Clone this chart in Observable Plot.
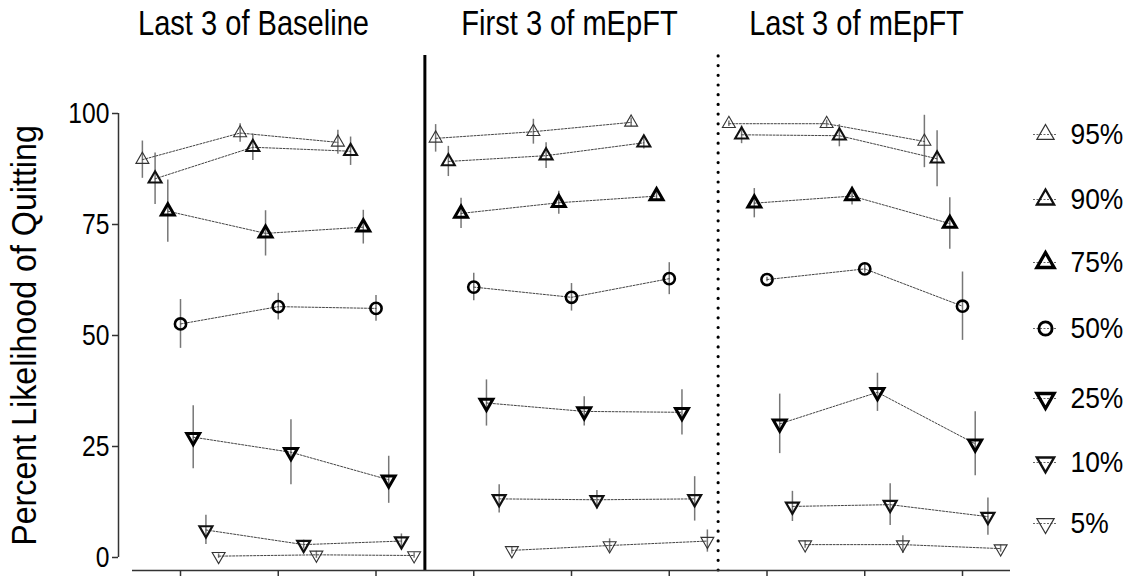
<!DOCTYPE html>
<html>
<head>
<meta charset="utf-8">
<script src="https://cdn.jsdelivr.net/npm/d3@7"></script>
<script src="https://cdn.jsdelivr.net/npm/@observablehq/plot@0.6"></script>
<style>
  html, body { margin: 0; padding: 0; background: #fff; }
  #chart svg { display: block; }
</style>
</head>
<body>
<div id="chart"></div>
<script>
// ---------- data ----------
const panelTitles = ["Last 3 of Baseline", "First 3 of mEpFT", "Last 3 of mEpFT"];
const sessions = [1, 2, 3, 4, 5, 6, 7, 8, 9];
const yTicks = [0, 25, 50, 75, 100];
const seriesLabels = ["95%", "90%", "75%", "50%", "25%", "10%", "5%"];
const yLabel = "Percent Likelihood of Quitting";

const mean95 = [89.6, 95.6, 93.5, 94.4, 95.9, 98.0, 97.7, 97.7, 93.7];
const err95  = [4.2, 2.1, 2.7, 3.1, 2.8, 1.0, 0.6, 0.8, 5.9];
const mean90 = [85.3, 92.4, 91.5, 89.2, 90.5, 93.4, 95.2, 95.0, 89.8];
const err90  = [5.8, 3.0, 3.2, 3.4, 2.9, 1.4, 2.0, 2.5, 6.3];
const mean75 = [78.0, 73.0, 74.4, 77.5, 79.9, 81.4, 79.8, 81.4, 75.2];
const err75  = [7.0, 5.1, 3.8, 3.4, 2.6, 1.0, 3.3, 2.0, 5.8];
const mean50 = [52.6, 56.5, 56.1, 60.9, 58.6, 62.8, 62.6, 65.0, 56.6];
const err50  = [5.5, 3.0, 2.9, 3.1, 3.1, 3.6, 0.5, 1.0, 7.7];
const mean25 = [27.1, 23.7, 17.5, 34.8, 32.9, 32.7, 30.1, 37.2, 25.6];
const err25  = [7.1, 7.3, 5.3, 5.2, 3.3, 5.1, 6.7, 4.3, 7.2];
const mean10 = [6.2, 2.9, 3.7, 13.2, 13.0, 13.2, 11.5, 11.9, 9.2];
const err10  = [3.3, 1.0, 1.6, 3.2, 2.1, 5.0, 3.4, 4.7, 4.2];
const mean5  = [0.3, 0.6, 0.45, 1.6, 2.7, 3.7, 2.9, 2.9, 2.0];
const err5   = [0.5, 0.8, 0.6, 0.8, 1.5, 2.5, 0.8, 2.0, 0.8];

// ---------- styles ----------
const means = [mean95, mean90, mean75, mean50, mean25, mean10, mean5];
const errs  = [err95, err90, err75, err50, err25, err10, err5];
const symbols   = ["triangle", "triangle", "triangle", "circle", "triangle", "triangle", "triangle"];
const rotations = [0, 0, 0, 0, 180, 180, 180];
const strokeW   = [1.1, 2.1, 3.0, 2.6, 3.0, 2.2, 1.1];
const strokeC   = ["#333", "#111", "#000", "#000", "#000", "#111", "#333"];
const radii     = [4.8, 4.8, 4.8, 5.6, 4.8, 4.8, 4.8];
const legendRadii = [6.4, 6.4, 6.4, 6.6, 6.4, 6.4, 6.4];

const FONT = '"Liberation Sans", Arial, Helvetica, sans-serif';

// ---------- layout ----------
const W = 1133, H = 576;
const mL = 118, mR = 123, mT = 113, mB = 6;
const xDomain = [0.3657, 9.491];
const yDomain = [-2.93, 100];
const kx = (W - mL - mR) / (xDomain[1] - xDomain[0]);
const ky = (H - mT - mB) / (yDomain[1] - yDomain[0]);
const px2x = px => xDomain[0] + (px - mL) / kx;
const py2y = py => yDomain[0] + (H - mB - py) / ky;
const dodge = 0.13;
const titlePx = [253, 569, 856];
const legendPy = [134, 199, 262, 328, 398, 462, 523];

const rows = [];
seriesLabels.forEach((s, si) => {
  sessions.forEach((sess, j) => {
    rows.push({
      series: s, si, panel: Math.floor(j / 3),
      x: sess + (si - 3) * dodge,
      mean: means[si][j], err: errs[si][j]
    });
  });
});

const marks = [];
// separators
marks.push(Plot.ruleX([3.5], {y1: yDomain[0], y2: py2y(55), stroke: "#000", strokeWidth: 3}));
marks.push(Plot.ruleX([6.5], {y1: yDomain[0], y2: py2y(55), stroke: "#000", strokeWidth: 3.2,
  strokeDasharray: "0,9.7", strokeLinecap: "round"}));
// axes
marks.push(Plot.ruleX([xDomain[0]], {y1: 0, y2: 100, stroke: "#333", strokeWidth: 1.5}));
marks.push(Plot.ruleY([yDomain[0]], {x1: px2x(132), x2: xDomain[1], stroke: "#333", strokeWidth: 1.5}));
marks.push(Plot.axisY({ticks: yTicks, anchor: "left", tickSize: 6, tickPadding: 3, fontSize: 29,
  label: null, stroke: "#333", strokeWidth: 1.5, fill: "#000", className: "sq-tick"}));
marks.push(Plot.axisX({ticks: sessions, anchor: "bottom", tickSize: 6, tickFormat: () => "",
  label: null, stroke: "#333", strokeWidth: 1.5}));
// error bars
marks.push(Plot.ruleX(rows, {x: "x", y1: d => d.mean - d.err, y2: d => d.mean + d.err,
  stroke: "#777", strokeWidth: 1.5}));
// connecting lines
marks.push(Plot.line(rows, {x: "x", y: "mean", z: d => d.series + "-" + d.panel,
  stroke: "#444", strokeWidth: 1, strokeDasharray: "2,1.5"}));
// markers
seriesLabels.forEach((s, si) => {
  marks.push(Plot.dot(rows.filter(d => d.si === si), {x: "x", y: "mean",
    symbol: symbols[si], r: radii[si], rotate: rotations[si],
    stroke: strokeC[si], strokeWidth: strokeW[si], fill: "none"}));
});
// legend
seriesLabels.forEach((s, si) => {
  const ly = py2y(legendPy[si]);
  marks.push(Plot.ruleY([ly], {x1: px2x(1033), x2: px2x(1057), stroke: "#666", strokeWidth: 1, strokeDasharray: "2,1.5"}));
  marks.push(Plot.dot([s], {x: () => px2x(1045), y: () => ly, symbol: symbols[si], r: legendRadii[si],
    rotate: rotations[si], stroke: strokeC[si], strokeWidth: strokeW[si] * 1.1, fill: "none"}));
  marks.push(Plot.text([s], {x: () => px2x(1070), y: () => ly, text: d => d, textAnchor: "start",
    fontSize: 30, fill: "#000", className: "sq-legend"}));
});
// panel titles
panelTitles.forEach((t, i) => {
  marks.push(Plot.text([t], {x: () => px2x(titlePx[i]), y: () => py2y(23.5), text: d => d,
    fontSize: 35, fill: "#000", className: "sq-title"}));
});
// y label
marks.push(Plot.text([yLabel], {x: () => px2x(24.5), y: () => py2y(335), rotate: -90,
  text: d => d, fontSize: 35, fill: "#000", className: "sq-ylabel"}));

const chart = Plot.plot({
  width: W, height: H,
  marginLeft: mL, marginRight: mR, marginTop: mT, marginBottom: mB,
  x: {domain: xDomain, axis: null},
  y: {domain: yDomain, axis: null},
  style: {fontFamily: FONT, background: "#fff", overflow: "visible"},
  marks
});
document.getElementById("chart").appendChild(chart);

// emulate a narrow (condensed) typeface by horizontally compressing glyphs
const squeeze = {"sq-tick": 0.85, "sq-legend": 0.88, "sq-title": 0.83, "sq-ylabel": 0.92};
Object.entries(squeeze).forEach(([cls, f]) => {
  chart.querySelectorAll("." + cls + " text").forEach(t => {
    const w = t.getComputedTextLength();
    if (w > 0) {
      t.setAttribute("textLength", (w * f).toFixed(2));
      t.setAttribute("lengthAdjust", "spacingAndGlyphs");
    }
  });
});
</script>
</body>
</html>
